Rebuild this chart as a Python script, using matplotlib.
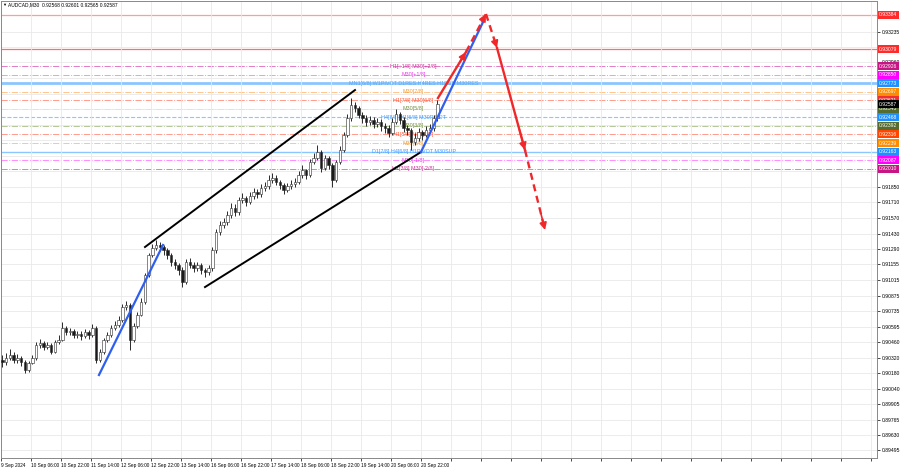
import numpy as np
import matplotlib
matplotlib.use('Agg')
import matplotlib.pyplot as plt
import matplotlib.transforms as mtransforms

plt.rcParams['font.family'] = ['Liberation Sans', 'DejaVu Sans']

title_text = 'AUDCAD,M30  0.92568 0.92601 0.92565 0.92587'

# one candle per 4 M30 bars
first_open = 0.90300
closes = [0.90282, 0.90317, 0.90344, 0.90300, 0.90317, 0.90282, 0.90210, 0.90273, 0.90317, 0.90434,
          0.90452, 0.90416, 0.90434, 0.90371, 0.90461, 0.90478, 0.90586, 0.90550, 0.90559, 0.90523,
          0.90532, 0.90514, 0.90550, 0.90523, 0.90586, 0.90300, 0.90371, 0.90478, 0.90523, 0.90586,
          0.90613, 0.90657, 0.90773, 0.90791, 0.90478, 0.90604, 0.90702, 0.90818, 0.91059, 0.91238,
          0.91301, 0.91328, 0.91310, 0.91283, 0.91238, 0.91176, 0.91149, 0.91104, 0.90997, 0.91176,
          0.91149, 0.91122, 0.91149, 0.91104, 0.91086, 0.91122, 0.91283, 0.91444, 0.91506, 0.91533,
          0.91596, 0.91658, 0.91623, 0.91730, 0.91748, 0.91712, 0.91766, 0.91802, 0.91784, 0.91837,
          0.91855, 0.91909, 0.91927, 0.91891, 0.91864, 0.91819, 0.91855, 0.91873, 0.91891, 0.91953,
          0.91998, 0.91953, 0.92070, 0.92105, 0.92159, 0.92016, 0.92105, 0.92043, 0.91909, 0.92070,
          0.92177, 0.92311, 0.92463, 0.92579, 0.92552, 0.92490, 0.92463, 0.92427, 0.92445, 0.92409,
          0.92427, 0.92392, 0.92374, 0.92329, 0.92427, 0.92499, 0.92445, 0.92374, 0.92356, 0.92248,
          0.92284, 0.92338, 0.92311, 0.92356, 0.92374, 0.92463, 0.92587]
highs = [0.90345, 0.90360, 0.90400, 0.90370, 0.90350, 0.90340, 0.90300, 0.90295, 0.90345, 0.90460,
         0.90490, 0.90470, 0.90465, 0.90450, 0.90480, 0.90520, 0.90640, 0.90600, 0.90590, 0.90580,
         0.90560, 0.90555, 0.90575, 0.90570, 0.90625, 0.90600, 0.90395, 0.90500, 0.90550, 0.90610,
         0.90650, 0.90690, 0.90800, 0.90830, 0.90810, 0.90630, 0.90730, 0.90850, 0.91080, 0.91260,
         0.91340, 0.91370, 0.91355, 0.91330, 0.91300, 0.91260, 0.91200, 0.91170, 0.91130, 0.91200,
         0.91210, 0.91180, 0.91175, 0.91165, 0.91125, 0.91150, 0.91310, 0.91470, 0.91540, 0.91570,
         0.91630, 0.91700, 0.91690, 0.91760, 0.91790, 0.91770, 0.91800, 0.91840, 0.91830, 0.91870,
         0.91890, 0.91950, 0.91970, 0.91950, 0.91910, 0.91880, 0.91885, 0.91905, 0.91925, 0.91985,
         0.92040, 0.92010, 0.92100, 0.92150, 0.92220, 0.92180, 0.92130, 0.92120, 0.92060, 0.92090,
         0.92210, 0.92340, 0.92500, 0.92640, 0.92610, 0.92570, 0.92520, 0.92490, 0.92480, 0.92470,
         0.92460, 0.92450, 0.92420, 0.92400, 0.92460, 0.92540, 0.92520, 0.92470, 0.92400, 0.92370,
         0.92330, 0.92370, 0.92360, 0.92390, 0.92410, 0.92490, 0.92620]
lows = [0.90240, 0.90255, 0.90300, 0.90270, 0.90275, 0.90250, 0.90185, 0.90195, 0.90260, 0.90300,
        0.90410, 0.90390, 0.90395, 0.90350, 0.90360, 0.90440, 0.90470, 0.90520, 0.90525, 0.90495,
        0.90500, 0.90480, 0.90495, 0.90490, 0.90505, 0.90270, 0.90280, 0.90355, 0.90460, 0.90505,
        0.90570, 0.90595, 0.90640, 0.90750, 0.90390, 0.90460, 0.90590, 0.90690, 0.90800, 0.91040,
        0.91220, 0.91280, 0.91270, 0.91240, 0.91200, 0.91140, 0.91110, 0.91060, 0.90950, 0.90980,
        0.91120, 0.91090, 0.91095, 0.91070, 0.91040, 0.91060, 0.91100, 0.91260, 0.91420, 0.91480,
        0.91510, 0.91570, 0.91590, 0.91600, 0.91700, 0.91680, 0.91690, 0.91740, 0.91750, 0.91760,
        0.91810, 0.91830, 0.91880, 0.91860, 0.91830, 0.91780, 0.91800, 0.91830, 0.91850, 0.91870,
        0.91930, 0.91920, 0.91935, 0.92050, 0.92090, 0.91980, 0.92000, 0.92010, 0.91850, 0.91890,
        0.92050, 0.92160, 0.92290, 0.92440, 0.92520, 0.92460, 0.92420, 0.92390, 0.92400, 0.92370,
        0.92380, 0.92350, 0.92330, 0.92290, 0.92310, 0.92410, 0.92410, 0.92340, 0.92310, 0.92180,
        0.92220, 0.92260, 0.92270, 0.92290, 0.92330, 0.92350, 0.92440]

time_labels = ['9 Sep 2024', '10 Sep 06:00', '10 Sep 22:00', '11 Sep 14:00', '12 Sep 06:00',
               '12 Sep 22:00', '13 Sep 14:00', '16 Sep 06:00', '16 Sep 22:00', '17 Sep 14:00',
               '18 Sep 06:00', '18 Sep 22:00', '19 Sep 14:00', '20 Sep 06:00', '20 Sep 22:00']

price_ticks = [0.93235, 0.93095, 0.92960, 0.92820, 0.92680, 0.92540, 0.92400, 0.92265, 0.92125,
               0.91985, 0.91850, 0.91710, 0.91570, 0.91430, 0.91290, 0.91155, 0.91015, 0.90875,
               0.90735, 0.90595, 0.90460, 0.90320, 0.90180, 0.90040, 0.89905, 0.89765, 0.89630,
               0.89495]
# tick labels that sit under the coloured price boxes are not shown
hidden_ticks = [0.93095, 0.92820, 0.92680, 0.92540, 0.92400, 0.92265, 0.92125, 0.91985]

# horizontal levels
levels = [0.93384, 0.93079, 0.92926, 0.92850, 0.92773, 0.92697, 0.92621, 0.92545,
          0.92468, 0.92392, 0.92316, 0.92239, 0.92163, 0.92087, 0.92010]
line_colors = ['#ff9c9c', '#ff6e6e', '#e27ac6', '#ff8cff', '#8cc6ff', '#ffc68c', '#ff9a8c', '#b4c898',
               '#8cc6ff', '#b4c898', '#ff9a8c', '#ffc68c', '#8cc6ff', '#ff8cff', '#e27ac6']
line_styles = ['-', '-', '-.', '-.', '-', '-.', '-.', '-.', '--', '-.', '-.', '-.', '-', '-.', '-.']
line_widths = [0.9, 0.9, 0.7, 0.7, 2.0, 0.7, 0.7, 0.7, 0.8, 0.7, 0.7, 0.7, 1.0, 0.7, 0.7]
box_colors = ['#ff2a2a', '#ff2a2a', '#c71585', '#ff00ff', '#1e90ff', '#ff8c00', '#f03030', '#556b2f',
              '#1e90ff', '#556b2f', '#ff4500', '#ff8c00', '#1e90ff', '#ff00ff', '#c71585']
level_texts = ['', '', 'H1[+1/8] M30[+2/8]', 'M30[+1/8]', 'MN1[6/8] W1PIVOT D1RES H4RES H1RES M30RES',
               'M30[7/8]', 'H1[7/8] M30[6/8]', 'M30[5/8]', 'H4[8/8] H1[6/8] M30PIVOT', 'M30[3/8]',
               'H1[5/8] M30[2/8]', 'M30[1/8]', 'D1[7/8] H4[6/8] H1PIVOT M30SUP', 'M30[-1/8]',
               'H1[3/8] M30[-2/8]']
text_colors = ['', '', '#cc3399', '#e83ae8', '#5aa8f0', '#f0a040', '#ff5a3a', '#789448',
               '#3f9cff', '#789448', '#ff5a3a', '#f0a040', '#3f9cff', '#e83ae8', '#cc3399']
current_price = 0.92587

# drawn objects (bar index, price)
blue_lines = [([104.5, 172.8], [0.90166, 0.91328]), ([448.0, 515.2], [0.92159, 0.93339])]
channel_lines = [([153.6, 377.6], [0.91310, 0.92713]), ([217.6, 448.0], [0.90952, 0.92159])]
red_x = [466.1, 496.0, 517.3, 529.1, 558.9, 580.3]
red_y = [0.92642, 0.93053, 0.93393, 0.93089, 0.92177, 0.91462]
red_styles = ['-', '--', '--', '-', '--']

fig = plt.figure(figsize=(9, 4.68), dpi=100)
ax = fig.add_axes([1 / 900, 1 - 458 / 468, 876 / 900, 457 / 468])
ax.set_xlim(0, 934.4)
ax.set_ylim(0.89424, 0.93509)

# grid
grid_x = np.arange(0, 934, 32)
ax.set_xticks(grid_x)
ax.set_xticklabels(time_labels + [''] * (len(grid_x) - len(time_labels)), ha='left')
ax.set_yticks(price_ticks)
ax.set_yticklabels(['' if p in hidden_ticks else '%.5f' % p for p in price_ticks])
ax.yaxis.tick_right()
ax.tick_params(axis='y', length=2, pad=1.5, labelsize=3.6, width=0.5)
ax.tick_params(axis='x', length=2, pad=1.5, labelsize=3.4, width=0.5)
ax.grid(True, color='#e9e9e9', lw=0.6, zorder=0)
for s in ax.spines.values():
    s.set_color('#888888')
    s.set_linewidth(0.7)

# levels
for i, lv in enumerate(levels):
    ax.axhline(lv, color=line_colors[i], ls=line_styles[i], lw=line_widths[i], zorder=1)
    if level_texts[i]:
        ax.text(440, lv, level_texts[i], color=text_colors[i], fontsize=3.9,
                ha='center', va='center', zorder=2)

# candles
opens = [first_open] + closes[:-1]
cx = np.arange(len(closes)) * 4 + 1.5
o = np.array(opens)
c = np.array(closes)
ax.vlines(cx, lows, highs, color='#2a2a2a', lw=0.7, zorder=3)
face = np.where(c >= o, 'white', '#1a1a1a')
ax.bar(cx, np.maximum(np.abs(c - o), 0.00003), bottom=np.minimum(o, c), width=2.7,
       color=face, edgecolor='#2a2a2a', lw=0.4, zorder=3.5)

# trend lines
for xs, ys in channel_lines:
    ax.plot(xs, ys, color='black', lw=1.4, zorder=4)
for xs, ys in blue_lines:
    ax.plot(xs, ys, color='#2f5ff0', lw=1.6, zorder=4)

red = '#f0282a'
for i in range(len(red_styles)):
    ax.plot(red_x[i:i + 2], red_y[i:i + 2], color=red, lw=1.7, ls=red_styles[i],
            dashes=(3, 2) if red_styles[i] == '--' else (None, None), zorder=5)
    x0 = red_x[i] + 0.8 * (red_x[i + 1] - red_x[i])
    y0 = red_y[i] + 0.8 * (red_y[i + 1] - red_y[i])
    ax.annotate('', xy=(red_x[i + 1], red_y[i + 1]), xytext=(x0, y0),
                arrowprops=dict(arrowstyle='-|>,head_length=0.6,head_width=0.3', color=red,
                                lw=1.2, shrinkA=0, shrinkB=0, mutation_scale=7), zorder=5)

# price boxes on the right axis
trans = mtransforms.blended_transform_factory(ax.transAxes, ax.transData)
for i, lv in enumerate(levels):
    ax.text(1.0025, lv, '%.5f' % lv, transform=trans, fontsize=3.6, color='white',
            ha='left', va='center', clip_on=False, zorder=10,
            bbox=dict(boxstyle='square,pad=0.3', fc=box_colors[i], ec='none'))
ax.text(1.0025, current_price, '%.5f' % current_price, transform=trans, fontsize=3.6,
        color='white', ha='left', va='center', clip_on=False, zorder=11,
        bbox=dict(boxstyle='square,pad=0.3', fc='black', ec='none'))

fig.text(2.5 / 900, 1 - 5 / 468, '\u25bc', fontsize=3, va='center', ha='left')
fig.text(8 / 900, 1 - 5 / 468, title_text, fontsize=3.5, va='center', ha='left')

fig.savefig('out.png', dpi=100)
